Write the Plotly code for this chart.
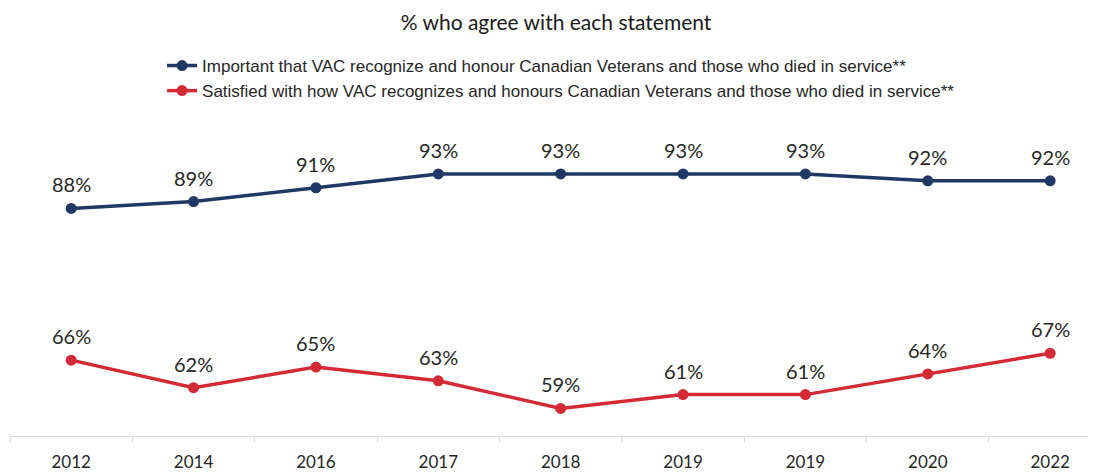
import plotly.graph_objects as go

years = ["2012", "2014", "2016", "2017", "2018", "2019", "2019\u200b", "2020", "2022"]
important = [88, 89, 91, 93, 93, 93, 93, 92, 92]
satisfied = [66, 62, 65, 63, 59, 61, 61, 64, 67]

NAVY = "#203864"
RED = "#D42A35"
LABEL_FONT = dict(family="Lato, Carlito, sans-serif", size=20, color="#262626")

fig = go.Figure()
series = [
    ("Important that VAC recognize and honour Canadian Veterans and those who died in service**", important, NAVY),
    ("Satisfied with how VAC recognizes and honours Canadian Veterans and those who died in service**", satisfied, RED),
]
for name, vals, color in series:
    fig.add_trace(
        go.Scatter(
            x=years,
            y=vals,
            name=name,
            mode="lines+markers",
            line=dict(color=color, width=3.5),
            marker=dict(color=color, size=11),
        )
    )
    # numeric-looking category names are read as indexes by annotations
    for i, v in enumerate(vals):
        fig.add_annotation(
            x=i, y=v, text=f"{v}%", showarrow=False,
            yshift=24, font=LABEL_FONT,
        )

# page body adds an 8px offset, margins compensate for it
fig.update_layout(
    width=1096,
    height=474,
    paper_bgcolor="white",
    plot_bgcolor="white",
    margin=dict(l=2, r=0, t=97, b=46),
    title=dict(
        text="% who agree with each statement",
        x=0.5,
        xanchor="center",
        y=0.97,
        yanchor="middle",
        font=dict(family="Lato, sans-serif", size=21, color="#1a1a1a"),
    ),
    showlegend=True,
    legend=dict(
        x=0.139,
        xanchor="left",
        y=0.988,
        yanchor="bottom",
        font=dict(family="Liberation Sans, Arial, sans-serif", size=17, color="#262626"),
        itemwidth=30,
        tracegroupgap=0,
        bgcolor="rgba(0,0,0,0)",
    ),
)
fig.update_xaxes(
    type="category",
    range=[-0.5, 8.44],
    showline=True,
    linecolor="#d9d9d9",
    linewidth=1,
    ticks="outside",
    tickson="boundaries",
    tickcolor="#d9d9d9",
    ticklen=5,
    showgrid=False,
    ticklabelstandoff=11,
    tickfont=dict(family="Lato, sans-serif", size=17, color="#262626"),
)
fig.update_yaxes(range=[55, 103], visible=False, showgrid=False)

fig.write_html("out.html")
